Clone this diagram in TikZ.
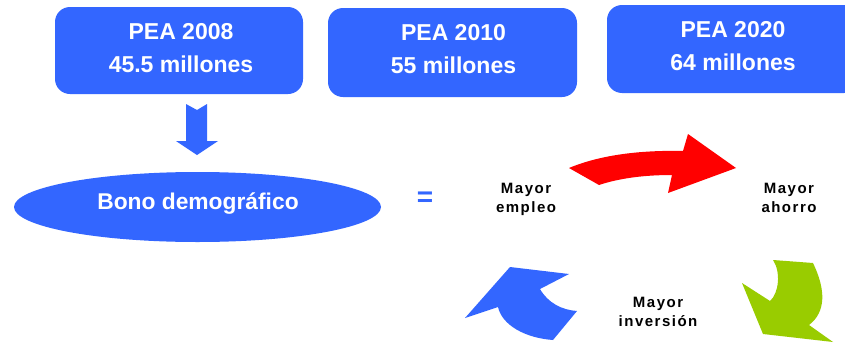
\documentclass[tikz,border=0pt]{standalone}
\usepackage{fontspec}
\setmainfont{Liberation Sans}
\newfontfamily\spacedfont[LetterSpace=10]{Liberation Sans}
\usetikzlibrary{shapes.geometric}
\definecolor{peablue}{HTML}{3366FF}
\definecolor{arrred}{HTML}{FF0000}
\definecolor{arrgreen}{HTML}{99CC00}
\begin{document}
\begin{tikzpicture}[x=1pt,y=-1pt,
  peabox/.style={fill=peablue, draw=none, rounded corners=15pt, inner sep=0pt},
  peatxt/.style={text=white, font=\bfseries\fontsize{23}{33}\selectfont, align=center, anchor=base, inner sep=0pt},
  bonotxt/.style={text=white, font=\bfseries\fontsize{22.8}{28}\selectfont, anchor=base, inner sep=0pt},
  cyctxt/.style={text=black, font=\spacedfont\bfseries\fontsize{15}{19}\selectfont, align=center, anchor=base, inner sep=0pt}]
\useasboundingbox (0,0) rectangle (845,343);
\clip (0,0) rectangle (845,343);
\fill[white] (0,0) rectangle (845,343);
% PEA boxes
\node[peabox, minimum width=248pt, minimum height=87pt] (b1) at (179,50.5) {};
\node[peabox, minimum width=249pt, minimum height=89pt] (b2) at (452.5,52.5) {};
\node[peabox, minimum width=252pt, minimum height=88pt] (b3) at (733,49) {};
\node[peatxt] (t1) at (181,72) {PEA 2008\\45.5 millones};
\node[peatxt] (t2) at (453.5,73) {PEA 2010\\55 millones};
\node[peatxt] (t3) at (733,70) {PEA 2020\\64 millones};
% down block arrow
\fill[peablue] (186,104) -- (197,110) -- (207,104) -- (207,141) -- (218,141)
  -- (197,155) -- (176,141) -- (186,141) -- cycle;
% ellipse
\node[ellipse, fill=peablue, draw=none, inner sep=0pt, minimum width=367pt, minimum height=70pt] (bono) at (197.5,207) {};
\node[bonotxt] (bonot) at (198,209) {Bono demográfico};
% equals
\node[text=peablue, font=\bfseries\fontsize{28}{34}\selectfont, inner sep=0pt] (eq) at (425,199) {=};
% cycle labels
\node[cyctxt] (empleo) at (526,212) {Mayor\\empleo};
\node[cyctxt] (ahorro) at (789,212) {Mayor\\ahorro};
\node[cyctxt] (inversion) at (658,326) {Mayor\\inversión};
% red arrow
\fill[arrred] (569,168) .. controls (600,155) and (640,150) .. (683,151) -- (688,134)
  -- (736,168) -- (668,193) -- (672,175) .. controls (645,175) and (620,178) .. (599,185) -- cycle;
% green arrow
\fill[arrgreen] (773,260) -- (813,263) .. controls (826,290) and (826,312) .. (809,325)
  -- (833,342) -- (763,334) -- (742,283) -- (770,301)
  .. controls (779,293) and (781,272) .. (773,260) -- cycle;
% blue arrow
\fill[peablue] (510,267) -- (569,274) -- (540,289) .. controls (548,303) and (562,310) .. (577,311)
  -- (553,340) .. controls (525,338) and (502,325) .. (498,307) -- (465,318) -- cycle;
\end{tikzpicture}
\end{document}
